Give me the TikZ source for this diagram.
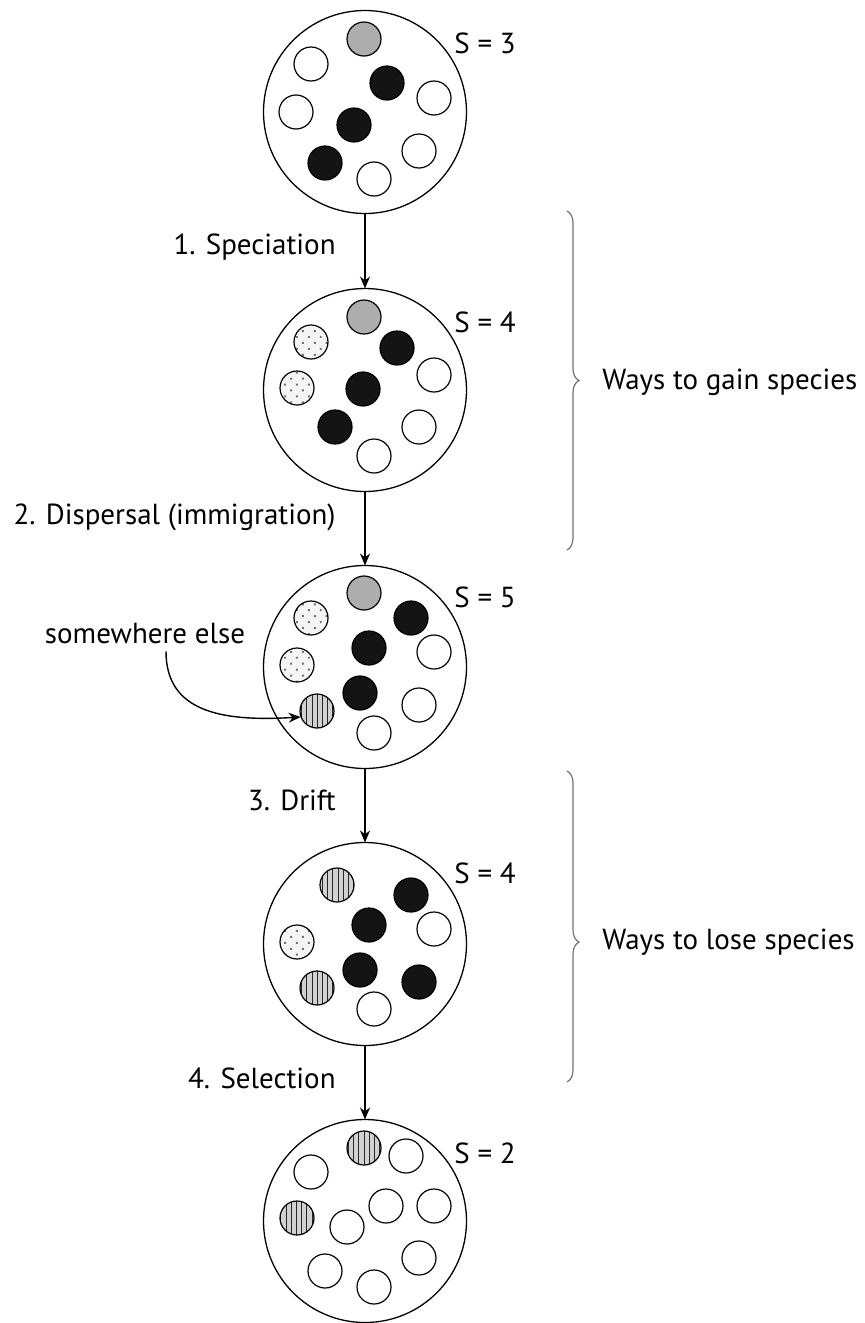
\documentclass[tikz,border=0pt]{standalone}
\usepackage{fontspec}
\setmainfont{PT Sans}
\usetikzlibrary{positioning, arrows.meta, decorations.pathreplacing, patterns.meta}
\tikzset{
	>={Stealth[length=6pt,width=5pt]},
	pool/.style={circle, draw, line width=0.65pt, minimum size=101.5pt, inner sep=0pt, outer sep=0pt},
	ind/.style={circle, draw, line width=0.6pt, minimum size=17pt, inner sep=0pt},
	wht/.style={ind, fill=white},
	blk/.style={ind, fill=black!92},
	gry/.style={ind, fill=black!32},
	dot/.style={ind, preaction={fill=black!4}, pattern={Dots[radius=0.7pt,distance=4.2pt,angle=45]}, pattern color=black!55},
	str/.style={ind, preaction={fill=black!18}, pattern={Lines[angle=90,distance=2.6pt,line width=0.45pt]}, pattern color=black!85},
	flow/.style={->, line width=0.7pt},
	brace/.style={decorate, decoration={brace, amplitude=6pt}, draw=black!55, line width=0.6pt},
	tag/.style={anchor=west, inner sep=0pt},
	steplabel/.style={anchor=east, inner sep=0pt}}

\begin{document}
\begin{tikzpicture}[x=0.5pt, y=-0.5pt, font=\fontsize{14.5}{17}\selectfont]
		\useasboundingbox (0,0) rectangle (865,1323);

		\node[pool] (pool1) at (365,112) {};
		\node[pool] (pool2) at (365,390) {};
		\node[pool] (pool3) at (365,667) {};
		\node[pool] (pool4) at (365,944) {};
		\node[pool] (pool5) at (365,1221) {};

		% S = 3
		\begin{scope}[shift={(pool1.center)}]
			\node[gry] (p1a) at (-1,-73) {};
			\node[wht] (p1b) at (-54,-48) {};
			\node[blk] (p1c) at (22,-29) {};
			\node[wht] (p1d) at (69,-14) {};
			\node[wht] (p1e) at (-69,0) {};
			\node[blk] (p1f) at (-11,13) {};
			\node[wht] (p1g) at (54,39) {};
			\node[blk] (p1h) at (-40,51) {};
			\node[wht] (p1i) at (9,67) {};
			\node[tag] (s1) at (89,-69) {S = 3};
		\end{scope}

		% S = 4
		\begin{scope}[shift={(pool2.center)}]
			\node[gry] (p2a) at (-1,-73) {};
			\node[dot] (p2b) at (-54,-48) {};
			\node[blk] (p2c) at (32,-42) {};
			\node[wht] (p2d) at (69,-15) {};
			\node[dot] (p2e) at (-68,-2) {};
			\node[blk] (p2f) at (-2,-1) {};
			\node[blk] (p2g) at (-30,37) {};
			\node[wht] (p2h) at (54,37) {};
			\node[wht] (p2i) at (9,66) {};
			\node[tag] (s2) at (89,-68) {S = 4};
		\end{scope}

		% S = 5
		\begin{scope}[shift={(pool3.center)}]
			\node[gry] (p3a) at (-1,-74) {};
			\node[dot] (p3b) at (-54,-49) {};
			\node[blk] (p3c) at (46,-49) {};
			\node[blk] (p3d) at (4,-19) {};
			\node[wht] (p3e) at (69,-15) {};
			\node[dot] (p3f) at (-68,-2) {};
			\node[blk] (p3g) at (-5,26) {};
			\node[wht] (p3h) at (54,38) {};
			\node[str] (p3i) at (-48,44) {};
			\node[wht] (p3j) at (9,66) {};
			\node[tag] (s3) at (89,-70) {S = 5};
		\end{scope}

		% S = 4
		\begin{scope}[shift={(pool4.center)}]
			\node[str] (p4a) at (-28,-59) {};
			\node[blk] (p4b) at (46,-49) {};
			\node[blk] (p4c) at (4,-19) {};
			\node[wht] (p4d) at (69,-15) {};
			\node[dot] (p4e) at (-68,-2) {};
			\node[blk] (p4f) at (-5,26) {};
			\node[str] (p4g) at (-48,44) {};
			\node[blk] (p4h) at (54,38) {};
			\node[wht] (p4i) at (9,65) {};
			\node[tag] (s4) at (89,-71) {S = 4};
		\end{scope}

		% S = 2
		\begin{scope}[shift={(pool5.center)}]
			\node[str] (p5a) at (-1,-73) {};
			\node[wht] (p5b) at (41,-65) {};
			\node[wht] (p5c) at (-54,-49) {};
			\node[wht] (p5d) at (21,-15) {};
			\node[wht] (p5e) at (69,-15) {};
			\node[str] (p5f) at (-68,-3) {};
			\node[wht] (p5g) at (-18,6) {};
			\node[wht] (p5h) at (54,37) {};
			\node[wht] (p5i) at (-40,50) {};
			\node[wht] (p5j) at (9,66) {};
			\node[tag] (s5) at (89,-68) {S = 2};
		\end{scope}

		\draw
		(pool1) edge[flow] (pool2)
		(pool2) edge[flow] (pool3)
		(pool3) edge[flow] (pool4)
		(pool4) edge[flow] (pool5)
		;

		\node[steplabel] (l1) at (336,247) {1. Speciation};
		\node[steplabel] (l2) at (336,517) {2. Dispersal (immigration)};
		\node[steplabel] (l3) at (336,800) {3. Drift};
		\node[steplabel] (l4) at (336,1078) {4. Selection};

		\node (else) at (145,634) {somewhere else};
		\draw[flow] ([xshift=10.5pt]else.south) .. controls +(0,60) and +(-80,5) .. (p3i.200);

		\coordinate (g1) at (567,211);
		\coordinate (g2) at (567,550);
		\coordinate (h1) at (567,771);
		\coordinate (h2) at (567,1082);
		\draw[brace] (g1) -- (g2);
		\draw[brace, decoration={aspect=0.55}] (h1) -- (h2);
		\node[tag] (gain) at (602,382) {Ways to gain species};
		\node[tag] (lose) at (602,942) {Ways to lose species};
	\end{tikzpicture}
\end{document}
